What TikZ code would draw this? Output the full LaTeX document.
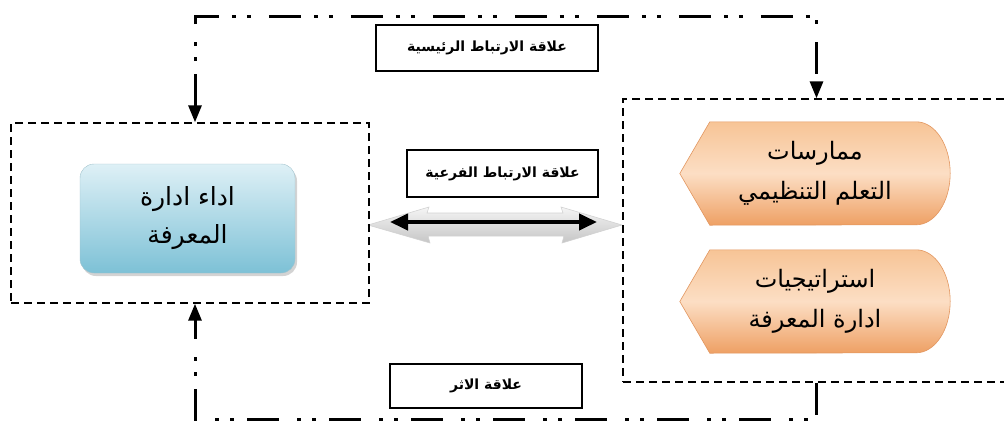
\documentclass[tikz,border=0pt]{standalone}
\usepackage{fontspec}
\newfontfamily\arabicfont[Script=Arabic]{DejaVu Sans}
\TeXXeTstate=1
\usetikzlibrary{arrows.meta,shadows,backgrounds,calc}
\definecolor{bluetop}{RGB}{222,240,246}
\definecolor{bluebot}{RGB}{125,193,214}
\definecolor{orgtop}{RGB}{247,196,150}
\definecolor{orgmid}{RGB}{252,222,196}
\definecolor{orgbot}{RGB}{238,160,100}
\definecolor{orgedge}{RGB}{226,150,95}
\begin{document}
\begin{tikzpicture}[x=1pt,y=-1pt,
  dashbox/.style={draw, line width=1.4pt, dash pattern=on 8pt off 5pt, inner sep=0pt},
  relline/.style={line width=3pt, dash pattern=on 32pt off 13pt on 4pt off 11pt on 4pt off 18pt},
  headtip/.tip={Triangle[length=17pt,width=13pt]},
  lblbox/.style={draw, line width=1.2pt, fill=white, inner sep=0pt, font=\arabicfont\bfseries\fontsize{14}{16}\selectfont},
  maintext/.style={align=center, text=black, font=\arabicfont\fontsize{24}{40}\selectfont},
  orangeshape/.style={top color=orgtop, bottom color=orgbot, middle color=orgmid, draw=orgedge, line width=0.6pt}
]
\useasboundingbox (0,0) rectangle (1004,421);

% dashed frames
\node[dashbox, minimum width=358pt, minimum height=180pt] (leftbox) at (190,213) {};
\node[dashbox, minimum width=387pt, minimum height=283pt] (rightbox) at (816.5,240.5) {};

% knowledge-management performance box
\node[rounded corners=14pt, minimum width=215pt, minimum height=109pt,
      top color=bluetop, bottom color=bluebot, draw=bluebot!80!black!60,
      line width=0.4pt,
      drop shadow={shadow xshift=2pt, shadow yshift=-3pt, opacity=0.35},
      maintext, font=\arabicfont\fontsize{25}{38}\selectfont] (perf) at (187.5,218.5)
  {\beginR اداء ادارة\endR\\\beginR المعرفة\endR};

% orange shapes
\node[maintext, minimum width=270pt, minimum height=103pt, inner sep=0pt] (op1) at (815,173.5)
  {\beginR ممارسات\endR\\\beginR التعلم التنظيمي\endR};
\node[maintext, minimum width=270pt, minimum height=103pt, inner sep=0pt] (op2) at (815,301.5)
  {\beginR استراتيجيات\endR\\\beginR ادارة المعرفة\endR};
\begin{scope}[on background layer]
  \foreach \n in {op1,op2}{
    \path[orangeshape] (\n.west) -- ([xshift=30pt]\n.north west) -- ([xshift=-34pt]\n.north east)
      arc[start angle=90, end angle=-90, x radius=34pt, y radius=51.5pt]
      -- ([xshift=30pt]\n.south west) -- cycle;
  }
  % grey 3D double arrow
  \path[top color=gray!8, bottom color=gray!45, draw=gray!35, line width=0.6pt]
    (368,225) -- (429,207) -- (427,213) -- (563,213) -- (561,207) -- (622,225)
    -- (562,243) -- (564,236) -- (428,236) -- (430,243) -- cycle;
\end{scope}

% labels
\node[lblbox, minimum width=222pt, minimum height=46pt] (lbl1) at (487,48) {\beginR علاقة الارتباط الرئيسية\endR};
\node[lblbox, minimum width=191pt, minimum height=47pt] (lbl2) at (502.5,173.5) {\beginR علاقة الارتباط الفرعية\endR};
\node[lblbox, minimum width=192pt, minimum height=44pt] (lbl3) at (486,386) {\beginR علاقة الاثر\endR};

% connectors
\coordinate (tl) at (195,16);
\coordinate (tr) at (tl -| rightbox.north);
\coordinate (bl) at (195,419);
\coordinate (br) at (bl -| rightbox.south);
\draw[relline, headtip-headtip] (leftbox.north -| tl) -- (tl) -- (tr) -- (rightbox.north);
\draw[relline, -headtip] (rightbox.south) -- (br) -- (bl) -- (leftbox.south -| bl);

\coordinate (ba1) at (390,222);
\coordinate (ba2) at (597,222);
\draw[line width=4pt, {Triangle[length=18pt,width=16pt]}-{Triangle[length=18pt,width=16pt]}] (ba1) -- (ba2);
\end{tikzpicture}
\end{document}
